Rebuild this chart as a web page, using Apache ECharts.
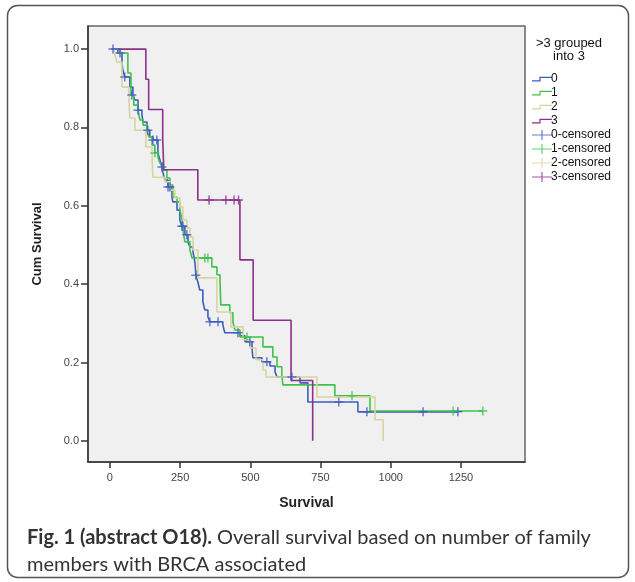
<!DOCTYPE html>
<html>
<head>
<meta charset="utf-8">
<script src="https://cdn.jsdelivr.net/npm/echarts@6/dist/echarts.min.js"></script>
<style>
html,body{margin:0;padding:0;background:#fff;}
#c{width:635px;height:582px;}
</style>
</head>
<body>
<div id="c"></div>
<script>
// ---- data ----
const xTicks = [0, 250, 500, 750, 1000, 1250];
const yTicks = [0, 0.2, 0.4, 0.6, 0.8, 1.0];
const groups = ['0', '1', '2', '3'];
const legendTitle1 = '>3 grouped';
const legendTitle2 = 'into 3';

// group 0 (blue)
const t0 = [5, 28, 43, 46, 53, 71, 82, 89, 100, 114, 118, 132, 142, 153, 171, 178, 185, 189, 196, 207, 221, 224, 239, 249, 256, 267, 278, 285, 296, 303, 306, 313, 320, 331, 338, 349, 356, 402, 409, 463, 481, 506, 509, 541, 570, 588, 595, 677, 705, 883, 1239];
const s0 = [1.0, 0.99, 0.964, 0.946, 0.929, 0.903, 0.883, 0.870, 0.844, 0.832, 0.814, 0.793, 0.776, 0.768, 0.735, 0.717, 0.699, 0.684, 0.666, 0.648, 0.622, 0.610, 0.589, 0.564, 0.548, 0.526, 0.508, 0.495, 0.482, 0.454, 0.423, 0.406, 0.385, 0.355, 0.334, 0.316, 0.304, 0.296, 0.276, 0.268, 0.253, 0.237, 0.212, 0.202, 0.191, 0.176, 0.163, 0.148, 0.099, 0.074, 0.074];
const c0t = [11, 36, 53, 78, 100, 135, 153, 167, 185, 207, 214, 256, 260, 274, 306, 356, 385, 456, 498, 559, 648, 815, 915, 1115, 1239];
const c0s = [1.0, 0.99, 0.929, 0.883, 0.844, 0.793, 0.768, 0.768, 0.699, 0.648, 0.648, 0.548, 0.548, 0.526, 0.423, 0.304, 0.304, 0.276, 0.253, 0.202, 0.163, 0.099, 0.074, 0.074, 0.074];

// group 1 (green)
const t1 = [21, 36, 64, 75, 85, 100, 107, 118, 132, 139, 150, 160, 171, 178, 189, 203, 214, 224, 239, 249, 256, 260, 267, 285, 292, 363, 381, 392, 395, 427, 438, 445, 463, 545, 580, 595, 612, 616, 801, 926, 1328];
const s1 = [1.0, 0.99, 0.939, 0.883, 0.857, 0.844, 0.819, 0.806, 0.788, 0.776, 0.755, 0.735, 0.724, 0.709, 0.691, 0.671, 0.653, 0.622, 0.610, 0.589, 0.569, 0.538, 0.508, 0.487, 0.467, 0.444, 0.424, 0.406, 0.347, 0.327, 0.304, 0.283, 0.265, 0.240, 0.214, 0.189, 0.168, 0.143, 0.115, 0.076, 0.076];
const c1t = [160, 338, 349, 488, 862, 1222, 1328];
const c1s = [0.735, 0.467, 0.467, 0.265, 0.115, 0.076, 0.076];

// group 2 (beige)
const t2 = [14, 18, 25, 43, 68, 71, 89, 128, 150, 153, 196, 214, 231, 249, 260, 274, 285, 296, 313, 381, 431, 474, 499, 520, 545, 556, 737, 944, 973];
const s2 = [1.0, 0.985, 0.967, 0.903, 0.865, 0.824, 0.793, 0.750, 0.730, 0.673, 0.661, 0.640, 0.620, 0.597, 0.564, 0.543, 0.520, 0.487, 0.416, 0.329, 0.291, 0.258, 0.237, 0.207, 0.181, 0.163, 0.112, 0.054, 0.0];
const c2t = [];
const c2s = [];

// group 3 (purple)
const t3 = [28, 128, 138, 188, 192, 313, 463, 510, 645, 722];
const s3 = [1.0, 0.923, 0.846, 0.769, 0.692, 0.615, 0.462, 0.308, 0.154, 0.0];
const c3t = [353, 413, 442, 458];
const c3s = [0.615, 0.615, 0.615, 0.615];

const captionBold = 'Fig. 1 (abstract O18).';
const captionRest = ' Overall survival based on number of family\nmembers with BRCA associated';

// ---- styling ----
const colors = ['#3f5cc0', '#40c24a', '#d8d3a0', '#8c2f8e'];
const plusPath = 'path://M-0.75,-4.5 L0.75,-4.5 L0.75,-0.75 L4.5,-0.75 L4.5,0.75 L0.75,0.75 L0.75,4.5 L-0.75,4.5 L-0.75,0.75 L-4.5,0.75 L-4.5,-0.75 L-0.75,-0.75 Z';
const legendStep = 'path://M0,0 L0.01,0 L0,0.01 Z M0,10 L0.01,10 L0,9.99 Z M0,6.3 L7.4,6.3 L7.4,2.7 L20,2.7 L20,3.9 L8.6,3.9 L8.6,7.5 L0,7.5 Z';
const legendPlus = 'path://M0,4.4 L9.4,4.4 L9.4,0 L10.6,0 L10.6,4.4 L20,4.4 L20,5.6 L10.6,5.6 L10.6,10 L9.4,10 L9.4,5.6 L0,5.6 Z';

const T = [t0, t1, t2, t3], S = [s0, s1, s2, s3];
const CT = [c0t, c1t, c2t, c3t], CS = [c0s, c1s, c2s, c3s];

const series = [];
groups.forEach((g, i) => {
  series.push({
    name: g, type: 'line', step: 'end', symbol: 'none',
    data: T[i].map((t, k) => [t, S[i][k]]),
    lineStyle: {color: colors[i], width: 1.6},
    itemStyle: {color: colors[i]},
    z: i === 3 ? 3 : 2,
    animation: false
  });
});
groups.forEach((g, i) => {
  series.push({
    name: g + '-censored', type: 'scatter',
    symbol: plusPath, symbolSize: 9,
    data: CT[i].map((t, k) => [t, CS[i][k]]),
    itemStyle: {color: colors[i]},
    z: 4,
    animation: false
  });
});

const legendData = groups.map(g => ({name: g, icon: legendStep}))
  .concat(groups.map(g => ({name: g + '-censored', icon: legendPlus})));

const chart = echarts.init(document.getElementById('c'));
chart.setOption({
  animation: false,
  backgroundColor: '#fff',
  textStyle: {fontFamily: 'Liberation Sans, Arial, sans-serif'},
  grid: {left: 88, top: 26, right: 110, bottom: 120, show: true,
         backgroundColor: '#f0f0f0', borderColor: '#666', borderWidth: 1.5},
  xAxis: {
    type: 'value', min: -78, max: 1478,
    name: 'Survival', nameLocation: 'middle', nameGap: 34,
    nameTextStyle: {fontSize: 14, fontWeight: 'bold', color: '#222'},
    axisLine: {show: true, onZero: false, lineStyle: {color: '#333', width: 1.5}},
    axisTick: {show: true, length: 6, inside: false, customValues: xTicks, lineStyle: {color: '#333', width: 1.5}},
    axisLabel: {customValues: xTicks, fontSize: 11, color: '#444', margin: 10,
                formatter: v => String(v)},
    splitLine: {show: false}
  },
  yAxis: {
    type: 'value', min: -0.054, max: 1.059,
    name: 'Cum Survival', nameLocation: 'middle', nameGap: 44,
    nameTextStyle: {fontSize: 13, fontWeight: 'bold', color: '#222'},
    axisLine: {show: true, onZero: false, lineStyle: {color: '#333', width: 1.5}},
    axisTick: {show: true, length: 7, inside: false, customValues: yTicks, lineStyle: {color: '#333', width: 1.5}},
    axisLabel: {customValues: yTicks, fontSize: 11, color: '#444', margin: 9,
                formatter: v => v.toFixed(1)},
    splitLine: {show: false}
  },
  legend: {
    orient: 'vertical', left: 527, top: 68,
    itemWidth: 20, itemHeight: 10, itemGap: 2,
    selectedMode: false,
    textStyle: {fontSize: 12, color: '#111', padding: [0, 0, 0, -6]},
    itemStyle: {borderWidth: 0},
    data: legendData
  },
  graphic: [
    {type: 'text', x: 569, y: 37, style: {text: legendTitle1, align: 'center', fontSize: 13, fill: '#111', fontFamily: 'Liberation Sans'}},
    {type: 'text', x: 569, y: 50, style: {text: legendTitle2, align: 'center', fontSize: 13, fill: '#111', fontFamily: 'Liberation Sans'}},
    {type: 'rect', shape: {x: 7.5, y: 5.5, width: 621, height: 572, r: 10},
     style: {fill: 'none', stroke: '#555', lineWidth: 1.5}, z: 10},
    {type: 'text', left: 27, top: 524,
     style: {
       text: '{b|' + captionBold + '}' + captionRest,
       fontSize: 20, fontFamily: 'Lato', fill: '#333', lineHeight: 27,
       rich: {b: {fontWeight: 'bold', fontSize: 20, fontFamily: 'Lato', fill: '#333', lineHeight: 27}}
     }}
  ],
  series: series
});
</script>
</body>
</html>
